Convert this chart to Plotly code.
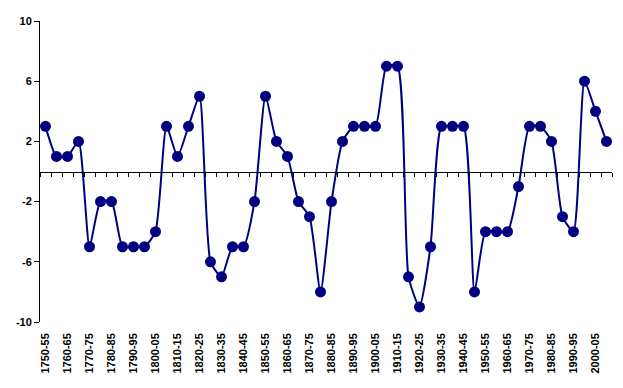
import plotly.graph_objects as go

periods = [
    "1750-55", "1755-60", "1760-65", "1765-70", "1770-75", "1775-80", "1780-85", "1785-90",
    "1790-95", "1795-00", "1800-05", "1805-10", "1810-15", "1815-20", "1820-25", "1825-30",
    "1830-35", "1835-40", "1840-45", "1845-50", "1850-55", "1855-60", "1860-65", "1865-70",
    "1870-75", "1875-80", "1880-85", "1885-90", "1890-95", "1895-00", "1900-05", "1905-10",
    "1910-15", "1915-20", "1920-25", "1925-30", "1930-35", "1935-40", "1940-45", "1945-50",
    "1950-55", "1955-60", "1960-65", "1965-70", "1970-75", "1975-80", "1980-85", "1985-90",
    "1990-95", "1995-00", "2000-05", "2005-10",
]
values = [
    3, 1, 1, 2, -5, -2, -2, -5,
    -5, -5, -4, 3, 1, 3, 5, -6,
    -7, -5, -5, -2, 5, 2, 1, -2,
    -3, -8, -2, 2, 3, 3, 3, 7,
    7, -7, -9, -5, 3, 3, 3, -8,
    -4, -4, -4, -1, 3, 3, 2, -3,
    -4, 6, 4, 2,
]
shown_labels = periods[::2]
y_ticks = [-10, -6, -2, 2, 6, 10]

navy = "#000080"
font = dict(family="Liberation Sans, Arial, sans-serif", size=11, color="black", weight="bold")

fig = go.Figure()
fig.add_trace(go.Scatter(
    x=periods, y=values, mode="lines+markers",
    line=dict(color=navy, width=2, shape="spline", smoothing=0.55),
    marker=dict(color=navy, size=11, line=dict(color=navy, width=0)),
    xaxis="x", yaxis="y", showlegend=False, hoverinfo="skip",
))
# helper trace to give the zero-line axis its categories
fig.add_trace(go.Scatter(
    x=periods, y=values, mode="lines", line=dict(width=0, color="rgba(0,0,0,0)"),
    xaxis="x2", yaxis="y", showlegend=False, hoverinfo="skip",
))

fig.update_layout(
    width=623, height=388,
    margin=dict(l=40, r=11, t=21, b=66),
    paper_bgcolor="white", plot_bgcolor="white",
    font=font,
    xaxis=dict(
        type="category", categoryorder="array", categoryarray=periods,
        range=[-0.5, len(periods) - 0.5],
        tickmode="array", tickvals=shown_labels, ticktext=shown_labels,
        tickangle=-90, showline=False, ticks="", showgrid=False, zeroline=False,
        ticklabelstandoff=8, tickfont=font,
    ),
    xaxis2=dict(
        type="category", categoryorder="array", categoryarray=periods,
        range=[-0.5, len(periods) - 0.5], matches="x",
        anchor="free", position=0.5, overlaying="x",
        showline=True, linecolor="black", linewidth=1,
        ticks="outside", ticklen=4, tickcolor="black", tickwidth=1,
        tickson="boundaries", dtick=1, showticklabels=False,
        showgrid=False, zeroline=False,
    ),
    yaxis=dict(
        range=[-10, 10], tickmode="array", tickvals=y_ticks,
        ticktext=[str(v) for v in y_ticks],
        showline=True, linecolor="black", linewidth=1,
        ticks="outside", ticklen=5, tickcolor="black",
        showgrid=False, zeroline=False, tickfont=font,
    ),
)

fig.write_html("out.html")
